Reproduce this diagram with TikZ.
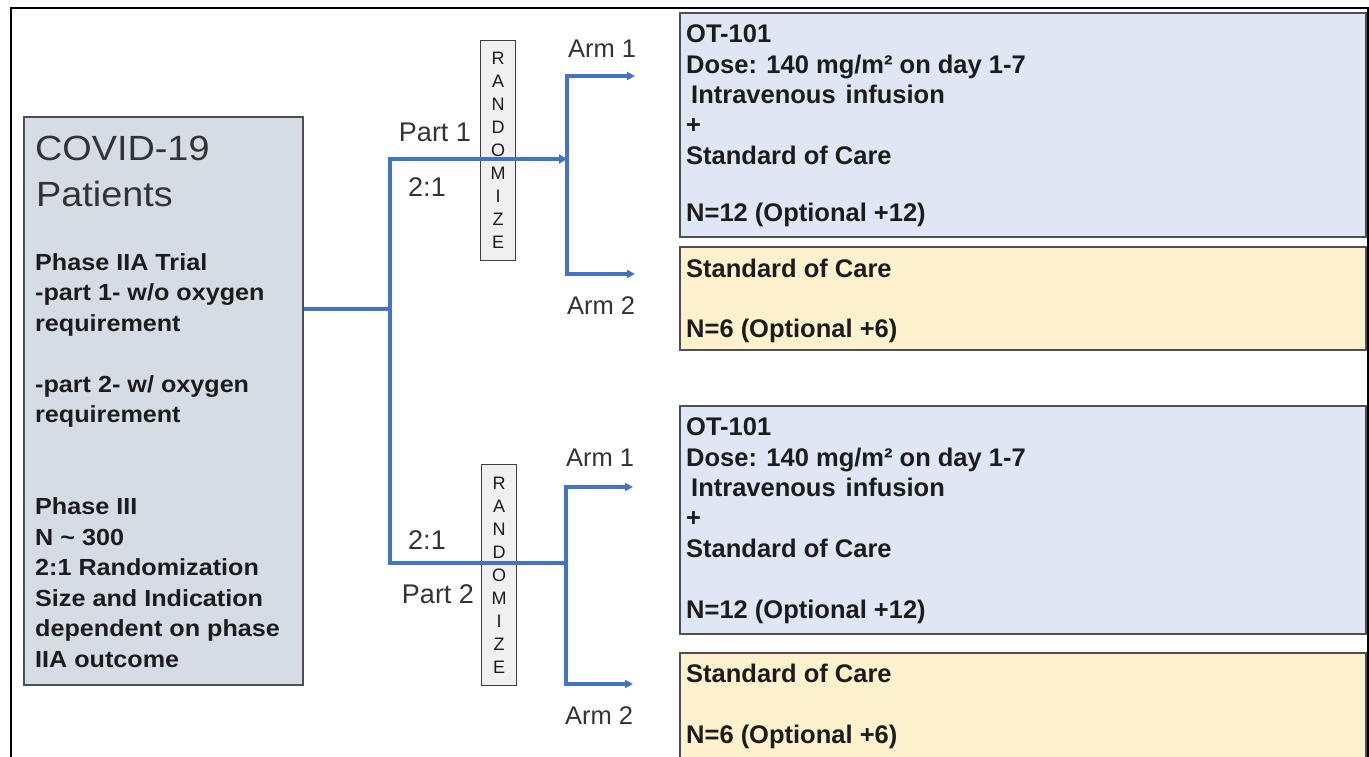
\documentclass[tikz,border=0pt]{standalone}
\usepackage{fontspec}
\setmainfont{Liberation Sans}
\newfontfamily\widesans[FakeStretch=1.08]{Liberation Sans}
\usetikzlibrary{arrows.meta}

\definecolor{flowblue}{HTML}{4472C4}
\definecolor{armblue}{HTML}{DEE7F3}
\definecolor{armyellow}{HTML}{FEF1CE}
\definecolor{patfill}{HTML}{D6DCE4}
\definecolor{boxedge}{HTML}{4F4F4F}
\definecolor{rndfill}{HTML}{F0F0F0}
\definecolor{ink}{HTML}{1C1C1C}

\tikzset{
  panel/.style={draw=boxedge, line width=1.6pt, inner sep=0pt, anchor=north west},
  rndbox/.style={draw=boxedge!80!black, fill=rndfill, line width=1.3pt, inner sep=0pt,
    anchor=north west, minimum width=35pt},
  rndtext/.style={inner sep=0pt, align=center, text=ink,
    font=\fontsize{18}{23}\selectfont},
  flowline/.style={draw=flowblue, line width=4.5pt},
  armline/.style={draw=flowblue, line width=4pt,
    {Triangle[length=8pt,width=8pt]}-{Triangle[length=8pt,width=8pt]}},
  armtxt/.style={inner sep=0pt, anchor=base west, text=ink,
    font=\bfseries\fontsize{25.5}{30}\selectfont},
  pattxt/.style={inner sep=0pt, anchor=base west, text=ink,
    font=\widesans\bfseries\fontsize{23.3}{28}\selectfont},
  bigtxt/.style={inner sep=0pt, anchor=base west, text=ink!90,
    font=\widesans\fontsize{35}{40}\selectfont},
  armlabel/.style={inner sep=0pt, text=ink!90, font=\fontsize{25.5}{30}\selectfont},
  partlabel/.style={inner sep=0pt, text=ink!90, font=\fontsize{27}{32}\selectfont},
}

\begin{document}
\begin{tikzpicture}[x=1pt,y=-1pt]
\useasboundingbox (0,0) rectangle (1369,757);
\fill[white] (0,0) rectangle (1369,757);
\begin{scope}
\clip (0,0) rectangle (1369,757);

% patient population panel
\node[panel, fill=patfill, minimum width=279pt, minimum height=568pt] (patients) at (23,116) {};
\node[bigtxt] (covid) at (35,161) {COVID-19};
\node[bigtxt] (covidb) at (36,207) {Patients};
\node[pattxt] (pa) at (35,270) {Phase IIA Trial};
\node[pattxt] (pb) at (35,300.5) {-part 1- w/o oxygen};
\node[pattxt] (pc) at (35,331) {requirement};
\node[pattxt] (pd) at (35,392) {-part 2- w/ oxygen};
\node[pattxt] (pe) at (35,422.5) {requirement};
\node[pattxt] (pf) at (35,514.5) {Phase III};
\node[pattxt] (pg) at (35,545) {N \char"007E\ 300};
\node[pattxt] (ph) at (35,575.5) {2:1 Randomization};
\node[pattxt] (pi) at (35,606) {Size and Indication};
\node[pattxt] (pj) at (35,636.5) {dependent on phase};
\node[pattxt] (pk) at (35,667) {IIA outcome};

% treatment arm panels
\node[panel, fill=armblue, minimum width=686pt, minimum height=224pt] (armA) at (679,12) {};
\node[panel, fill=armyellow, minimum width=686pt, minimum height=103pt] (armB) at (679,246) {};
\node[panel, fill=armblue, minimum width=686pt, minimum height=228pt] (armC) at (679,405) {};
\node[panel, fill=armyellow, minimum width=686pt, minimum height=130pt] (armD) at (679,652) {};

\node[armtxt] (a1) at (686,43) {OT-101};
\node[armtxt] (a2) at (686,74) {Dose: 140 mg/m² on day 1-7};
\node[armtxt] (a3) at (691,104) {Intravenous\hspace{10pt}infusion};
\node[armtxt] (a4) at (686,134) {+};
\node[armtxt] (a5) at (686,165) {Standard of Care};
\node[armtxt] (a6) at (686,222) {N=12 (Optional +12)};

\node[armtxt] (b1) at (686,277) {Standard of Care};
\node[armtxt] (b2) at (686,337) {N=6 (Optional +6)};

\node[armtxt] (c1) at (686,435) {OT-101};
\node[armtxt] (c2) at (686,466) {Dose: 140 mg/m² on day 1-7};
\node[armtxt] (c3) at (691,496) {Intravenous\hspace{10pt}infusion};
\node[armtxt] (c4) at (686,526) {+};
\node[armtxt] (c5) at (686,557) {Standard of Care};
\node[armtxt] (c6) at (686,618) {N=12 (Optional +12)};

\node[armtxt] (d1) at (686,682) {Standard of Care};
\node[armtxt] (d2) at (686,743) {N=6 (Optional +6)};

% randomisation boxes
\node[rndbox, minimum height=220pt] (rndA) at (480,40) {};
\node[rndtext] (rndAt) at (rndA.center) {R\\A\\N\\D\\O\\M\\I\\Z\\E};
\node[rndbox, minimum height=221pt] (rndB) at (481,464) {};
\node[rndtext] (rndBt) at (rndB.center) {R\\A\\N\\D\\O\\M\\I\\Z\\E};

% labels
\node[partlabel] (part1) at (435,132.5) {Part 1};
\node[partlabel] (ratio1) at (427,187) {2:1};
\node[partlabel] (ratio2) at (427,540) {2:1};
\node[partlabel] (part2) at (438,594) {Part 2};
\node[armlabel] (arm1a) at (602,48.5) {Arm 1};
\node[armlabel] (arm2a) at (601,305.5) {Arm 2};
\node[armlabel] (arm1b) at (600,458) {Arm 1};
\node[armlabel] (arm2b) at (599,715.5) {Arm 2};

% flow connectors
\coordinate (split) at (390,309);
\coordinate (upper) at (390,159);
\coordinate (lower) at (390,563);
\coordinate (barAin) at (567,159);
\coordinate (barBin) at (566,563);
\coordinate (barAtop) at (567,76);
\coordinate (barAbot) at (567,274);
\coordinate (barBtop) at (566,487);
\coordinate (barBbot) at (566,684);
\coordinate (tipA1) at (635,76);
\coordinate (tipA2) at (635,274);
\coordinate (tipB1) at (633,487);
\coordinate (tipB2) at (633,684);

\draw[flowline, line width=4pt] (patients.east |- split) -- (split);
\draw[flowline, {Triangle[length=8pt,width=9pt]}-] (barAin) -- (upper) -- (lower) -- (barBin);
\draw[armline, line width=4.5pt] (tipA1) -- (barAtop) -- (barAbot) -- (tipA2);
\draw[armline, line width=4.5pt] (tipB1) -- (barBtop) -- (barBbot) -- (tipB2);
\end{scope}

% outer frame
\draw[black, line width=2pt] (10.5,757) -- (10.5,8) -- (1367.5,8) -- (1367.5,757);
\end{tikzpicture}
\end{document}
